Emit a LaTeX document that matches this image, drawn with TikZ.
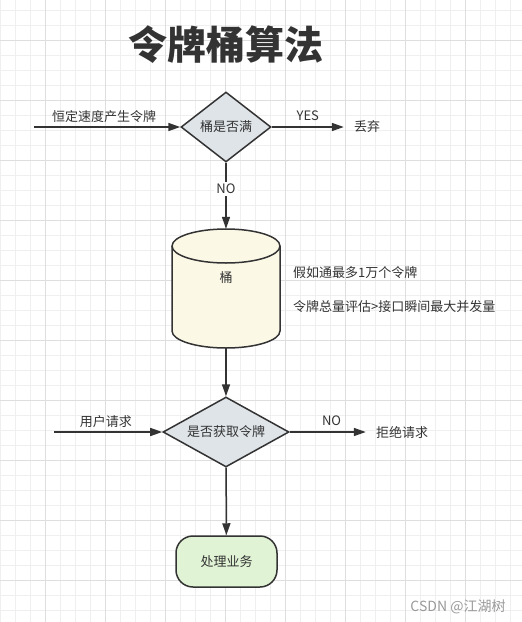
\documentclass[tikz,border=0pt]{standalone}
\usepackage{fontspec}
\setmainfont{Noto Sans CJK SC}
\usepackage{xcolor}
\usepackage{tikz}
\usetikzlibrary{shapes,arrows.meta}
\definecolor{ink}{HTML}{333333}
\definecolor{decfill}{HTML}{DFE4E9}
\definecolor{bucketfill}{HTML}{FBF8E6}
\definecolor{procfill}{HTML}{E1F3D5}
\definecolor{minorgrid}{HTML}{EFEFEF}
\definecolor{majorgrid}{HTML}{DEDEDE}
\tikzstyle{decision} = [diamond, draw=ink, line width=1.5pt, fill=decfill, text=ink, inner sep=1pt, font=\fontsize{13}{15}\selectfont]
\tikzstyle{process} = [rectangle, rounded corners=17pt, draw=ink, line width=1.5pt, fill=procfill, text=ink, minimum width=101pt, minimum height=51pt, font=\fontsize{13}{15}\selectfont]
\tikzstyle{tag} = [text=ink, inner xsep=10pt, inner ysep=2pt, font=\fontsize{13}{15}\selectfont]
\tikzstyle{line} = [draw=ink, line width=1.5pt, -{Triangle[length=12pt,width=8pt]}]

\begin{document}
\begin{tikzpicture}[x=1pt,y=-1pt]
\useasboundingbox (0,0) rectangle (522,622);
% background grid
\foreach \x in {0.5,15.5,...,522} \draw[minorgrid, line width=0.8pt] (\x,0) -- (\x,622);
\foreach \y in {10,25,...,622} \draw[minorgrid, line width=0.8pt] (0,\y) -- (522,\y);
\foreach \x in {45.5,105.5,...,522} \draw[majorgrid, line width=0.8pt] (\x,0) -- (\x,622);
\foreach \y in {40,100,...,622} \draw[majorgrid, line width=0.8pt] (0,\y) -- (522,\y);

\node [text=ink, font=\fontsize{39}{42}\selectfont\bfseries] (title) at (226,45) {令牌桶算法};

\node [decision, aspect=1.29, minimum width=90pt, minimum height=70pt] (full) at (226,127) {桶是否满};
\coordinate (produce) at (34,127);
\node [tag] (discard) at (367,127) {丢弃};

% bucket
\filldraw [draw=ink, fill=bucketfill, line width=1.5pt] (172,246) -- (172,331) arc (180:0:54 and 17) -- (280,246) arc (0:-180:54 and 17) -- cycle;
\draw [ink, line width=1.5pt] (172,246) arc (180:0:54 and 17);
\node [tag, inner sep=0pt, minimum width=108pt, minimum height=119pt, text depth=22pt] (bucket) at (226,288.5) {桶};
\node [tag, inner xsep=0pt, anchor=west] (note1) at (293,273) {假如通最多1万个令牌};
\node [tag, inner xsep=0pt, anchor=west] (note2) at (293,307) {令牌总量评估>接口瞬间最大并发量};

\node [decision, aspect=1.8, minimum width=126pt, minimum height=70pt] (gettoken) at (226,432) {是否获取令牌};
\coordinate (request) at (54,432);
\node [tag] (reject) at (402,432) {拒绝请求};

\node [process] (handle) at (226.5,561.5) {处理业务};

\path [line] (produce) -- node [tag, above=2pt, pos=0.48] {恒定速度产生令牌} (full);
\path [line] (full) -- node [tag, above=4pt] {YES} (discard);
\path [line] (full) -- node [tag, fill=white, inner xsep=2pt, pos=0.4] {NO} (bucket);
\path [line] (bucket) -- (gettoken);
\path [line] (request) -- node [tag, above=2pt, pos=0.48] {用户请求} (gettoken);
\path [line] (gettoken) -- node [tag, above=4pt, pos=0.55] {NO} (reject);
\path [line] (gettoken) -- (handle);

\node [text=gray!80, font=\fontsize{14}{16}\selectfont] (mark) at (458,607) {CSDN @江湖树};
\end{tikzpicture}
\end{document}
